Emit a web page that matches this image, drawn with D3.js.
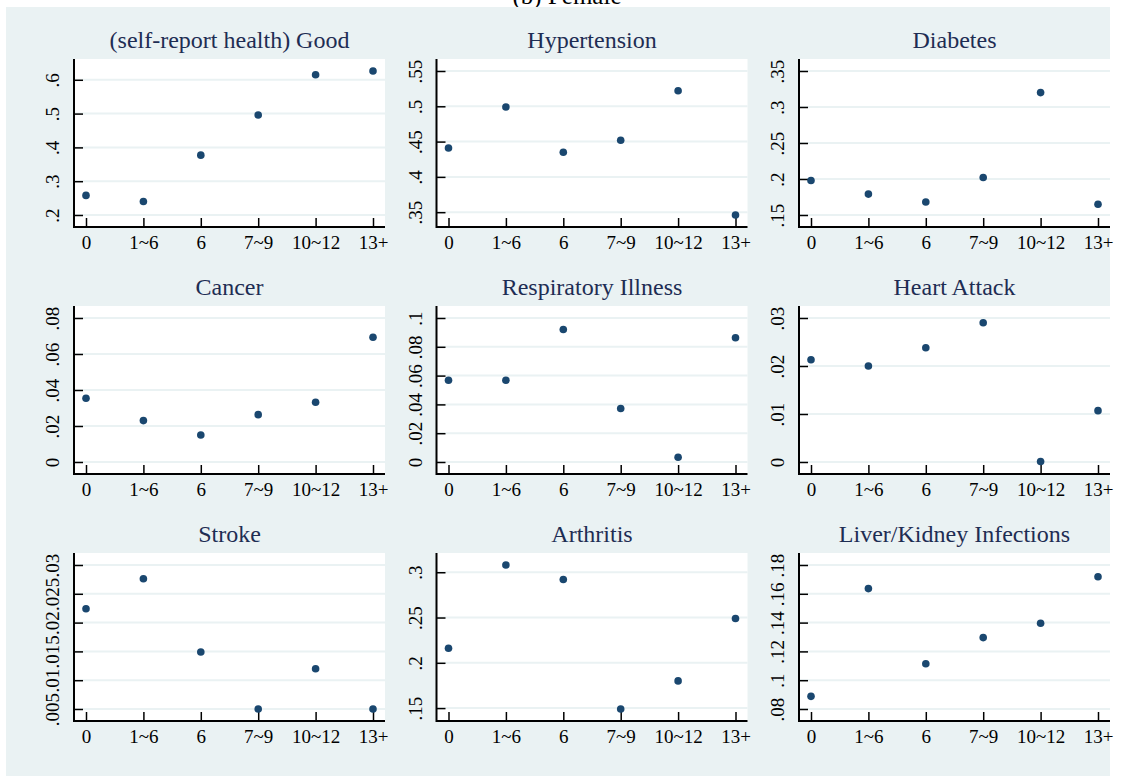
<!DOCTYPE html>
<html>
<head>
<meta charset="utf-8">
<script src="https://cdn.jsdelivr.net/npm/d3@7"></script>
<style>
  body { margin: 0; background: #fff; }
  svg { display: block; }
</style>
</head>
<body>
<div id="chart"></div>
<script>
// education levels on the x axis
const levels = ["0", "1~6", "6", "7~9", "10~12", "13+"];

// share reporting each outcome
const good = [0.258, 0.240, 0.377, 0.496, 0.615, 0.626];
const hypertension = [0.441, 0.499, 0.435, 0.452, 0.522, 0.346];
const diabetes = [0.198, 0.179, 0.168, 0.202, 0.320, 0.165];
const cancer = [0.0354, 0.0230, 0.0150, 0.0263, 0.0332, 0.0693];
const respiratory = [0.0568, 0.0568, 0.0920, 0.0372, 0.0033, 0.0863];
const heartAttack = [0.0213, 0.0200, 0.0238, 0.0290, 0.0001, 0.0107];
const stroke = [0.0224, 0.0276, 0.0149, 0.0050, 0.0120, 0.0050];
const arthritis = [0.216, 0.308, 0.292, 0.149, 0.180, 0.249];
const liver = [0.0888, 0.1636, 0.1114, 0.1296, 0.1395, 0.1718];

// y tick values per panel
const goodTicks = [0.2, 0.3, 0.4, 0.5, 0.6];
const hyperTicks = [0.35, 0.4, 0.45, 0.5, 0.55];
const diabTicks = [0.15, 0.2, 0.25, 0.3, 0.35];
const cancerTicks = [0, 0.02, 0.04, 0.06, 0.08];
const respTicks = [0, 0.02, 0.04, 0.06, 0.08, 0.1];
const heartTicks = [0, 0.01, 0.02, 0.03];
const strokeTicks = [0.005, 0.01, 0.015, 0.02, 0.025, 0.03];
const arthTicks = [0.15, 0.2, 0.25, 0.3];
const liverTicks = [0.08, 0.1, 0.12, 0.14, 0.16, 0.18];

const titles = ["(self-report health) Good", "Hypertension", "Diabetes",
  "Cancer", "Respiratory Illness", "Heart Attack",
  "Stroke", "Arthritis", "Liver/Kidney Infections"];
const series = [good, hypertension, diabetes, cancer, respiratory, heartAttack, stroke, arthritis, liver];
const tickSets = [goodTicks, hyperTicks, diabTicks, cancerTicks, respTicks, heartTicks, strokeTicks, arthTicks, liverTicks];

const width = 1124, height = 776;
const pw = 311, ph = 168;   // plot region size
const inset = 12;           // stata plot-region margin
const font = "'Liberation Serif', 'Times New Roman', serif";

const svg = d3.select("#chart").append("svg")
  .attr("width", width)
  .attr("height", height);

// cut-off figure caption at the very top
svg.append("text")
  .attr("x", 567)
  .attr("y", 4)
  .attr("text-anchor", "middle")
  .style("font-family", font)
  .style("font-size", "25px")
  .attr("fill", "#000")
  .text("(b) Female");

// graph background
svg.append("rect")
  .attr("x", 6).attr("y", 7)
  .attr("width", 1104).attr("height", height - 7)
  .attr("fill", "#eaf2f3");

// drop the leading zero like stata does
const fmt = v => d3.format("")(+v.toFixed(4)).replace(/^0\./, ".");

series.forEach((vals, i) => {
  const col = i % 3, row = Math.floor(i / 3);
  const g = svg.append("g")
    .attr("transform", `translate(${74 + col * 362.5},${59 + row * 247})`);

  const ticks = tickSets[i];
  const x = d3.scalePoint().domain(levels).range([inset, pw - inset]);
  const y = d3.scaleLinear()
    .domain(d3.extent(ticks.concat(vals)))
    .range([ph - inset, inset]);

  g.append("rect")
    .attr("width", pw).attr("height", ph)
    .attr("fill", "#fff");

  // gridlines
  g.selectAll(".grid")
    .data(ticks)
    .enter().append("line")
    .attr("x1", 0).attr("x2", pw)
    .attr("y1", d => y(d)).attr("y2", d => y(d))
    .attr("stroke", "#eaf2f3")
    .attr("stroke-width", 2);

  // y axis
  const ya = g.append("g")
    .call(d3.axisLeft(y).tickValues(ticks).tickSize(-9).tickSizeOuter(0).tickFormat(fmt));
  ya.select(".domain").remove();
  ya.selectAll("line").attr("stroke", "#000").attr("stroke-width", 1.5);
  ya.selectAll("text")
    .attr("x", 0).attr("y", -15).attr("dy", 0)
    .attr("transform", "rotate(-90)")
    .attr("text-anchor", "middle")
    .attr("fill", "#000")
    .style("font-family", font)
    .style("font-size", "19px");

  // x axis
  const xa = g.append("g")
    .attr("transform", `translate(0,${ph})`)
    .call(d3.axisBottom(x).tickSize(-9).tickSizeOuter(0));
  xa.select(".domain").remove();
  xa.selectAll("line").attr("stroke", "#000").attr("stroke-width", 1.5);
  xa.selectAll("text")
    .attr("y", 22).attr("dy", 0)
    .attr("fill", "#000")
    .style("font-family", font)
    .style("font-size", "19px");

  // axis lines
  g.append("path")
    .attr("d", `M0,0V${ph}H${pw}`)
    .attr("fill", "none")
    .attr("stroke", "#000")
    .attr("stroke-width", 2);

  // points
  g.selectAll(".dot")
    .data(vals)
    .enter().append("circle")
    .attr("cx", (d, j) => x(levels[j]))
    .attr("cy", d => y(d))
    .attr("r", 3.8)
    .attr("fill", "#1a476f");

  // panel title
  g.append("text")
    .attr("x", pw / 2)
    .attr("y", -11)
    .attr("text-anchor", "middle")
    .attr("fill", "#1e2d53")
    .style("font-family", font)
    .style("font-size", "24px")
    .text(titles[i]);
});
</script>
</body>
</html>
